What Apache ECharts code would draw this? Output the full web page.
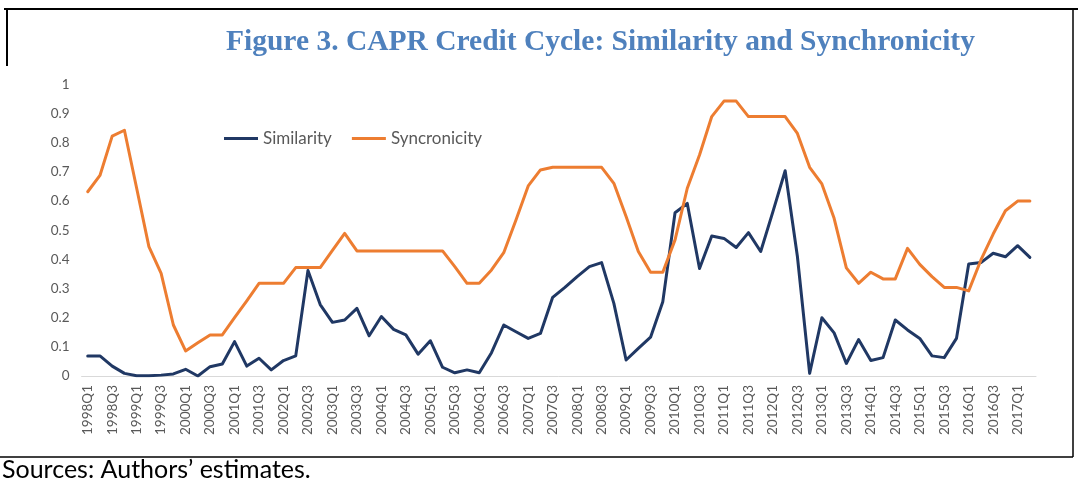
<!DOCTYPE html>
<html>
<head>
<meta charset="utf-8">
<script src="https://cdn.jsdelivr.net/npm/echarts@6/dist/echarts.min.js"></script>
<style>
html,body{margin:0;padding:0;background:#fff;}
#chart{width:1078px;height:485px;}
</style>
</head>
<body>
<div id="chart"></div>
<script>
const quarters = [
"1998Q1","1998Q2","1998Q3","1998Q4","1999Q1","1999Q2","1999Q3","1999Q4",
"2000Q1","2000Q2","2000Q3","2000Q4","2001Q1","2001Q2","2001Q3","2001Q4",
"2002Q1","2002Q2","2002Q3","2002Q4","2003Q1","2003Q2","2003Q3","2003Q4",
"2004Q1","2004Q2","2004Q3","2004Q4","2005Q1","2005Q2","2005Q3","2005Q4",
"2006Q1","2006Q2","2006Q3","2006Q4","2007Q1","2007Q2","2007Q3","2007Q4",
"2008Q1","2008Q2","2008Q3","2008Q4","2009Q1","2009Q2","2009Q3","2009Q4",
"2010Q1","2010Q2","2010Q3","2010Q4","2011Q1","2011Q2","2011Q3","2011Q4",
"2012Q1","2012Q2","2012Q3","2012Q4","2013Q1","2013Q2","2013Q3","2013Q4",
"2014Q1","2014Q2","2014Q3","2014Q4","2015Q1","2015Q2","2015Q3","2015Q4",
"2016Q1","2016Q2","2016Q3","2016Q4","2017Q1","2017Q2"
];
const similarity = [
0.069,0.069,0.034,0.009,0.001,0.001,0.003,0.007,
0.023,0.000,0.032,0.041,0.118,0.034,0.061,0.021,
0.053,0.069,0.362,0.245,0.184,0.192,0.232,0.138,
0.204,0.160,0.141,0.075,0.121,0.030,0.011,0.021,
0.011,0.080,0.175,0.152,0.129,0.146,0.270,0.304,
0.341,0.375,0.389,0.249,0.055,0.095,0.133,0.255,
0.560,0.592,0.369,0.480,0.472,0.441,0.492,0.427,
0.564,0.704,0.410,0.009,0.200,0.148,0.043,0.125,
0.053,0.063,0.192,0.158,0.129,0.069,0.063,0.129,
0.384,0.389,0.421,0.409,0.447,0.407
];
const syncronicity = [
0.632,0.688,0.823,0.843,0.644,0.444,0.352,0.175,
0.086,0.114,0.141,0.141,0.200,0.258,0.318,0.318,
0.318,0.372,0.372,0.372,0.431,0.489,0.429,0.429,
0.429,0.429,0.429,0.429,0.429,0.429,0.375,0.318,
0.318,0.364,0.423,0.535,0.652,0.707,0.716,0.716,
0.716,0.716,0.716,0.661,0.547,0.427,0.356,0.356,
0.467,0.644,0.758,0.890,0.943,0.943,0.890,0.890,
0.890,0.890,0.832,0.716,0.659,0.541,0.371,0.318,
0.356,0.333,0.333,0.438,0.383,0.341,0.304,0.304,
0.292,0.398,0.487,0.567,0.600,0.600
];
const titleText = "Figure 3. CAPR Credit Cycle: Similarity and Synchronicity";
const sourceText = "Sources: Authors\u2019 estimates.";

const chart = echarts.init(document.getElementById('chart'), null, {renderer:'canvas'});
chart.setOption({
  animation:false,
  backgroundColor:'#ffffff',
  title:{
    text:titleText,
    left:221, top:22,
    textStyle:{fontFamily:'Liberation Serif', fontWeight:'bold', fontSize:29.5, color:'#4f81bd'}
  },
  legend:{
    left:219, top:125,
    icon:'rect', itemWidth:34, itemHeight:3, itemGap:20,
    textStyle:{fontFamily:'Lato', fontSize:17, color:'#595959'},
    data:['Similarity','Syncronicity']
  },
  grid:{left:81.6, right:42, top:84.5, bottom:109, containLabel:false},
  xAxis:{
    type:'category', data:quarters, boundaryGap:true,
    axisLine:{lineStyle:{color:'#d9d9d9', width:1}},
    axisTick:{show:false},
    axisLabel:{interval:1, rotate:90, color:'#595959', fontFamily:'Lato', fontSize:13.5, margin:9}
  },
  yAxis:{
    type:'value', min:0, max:1, interval:0.1,
    axisLine:{show:false}, axisTick:{show:false},
    splitLine:{show:false},
    axisLabel:{color:'#595959', fontFamily:'Lato', fontSize:13.5, margin:12}
  },
  series:[
    {name:'Similarity', type:'line', data:similarity, symbol:'none',
     lineStyle:{color:'#203864', width:3, cap:'round', join:'round'}, itemStyle:{color:'#203864'}},
    {name:'Syncronicity', type:'line', data:syncronicity, symbol:'none',
     lineStyle:{color:'#ed7d31', width:3, cap:'round', join:'round'}, itemStyle:{color:'#ed7d31'}}
  ],
  graphic:[
    {type:'line', shape:{x1:4, y1:9, x2:1078, y2:9}, style:{stroke:'#000', lineWidth:2}},
    {type:'line', shape:{x1:7, y1:9, x2:7, y2:66}, style:{stroke:'#000', lineWidth:2}},
    {type:'line', shape:{x1:1073, y1:9, x2:1073, y2:457}, style:{stroke:'#000', lineWidth:1.5}},
    {type:'line', shape:{x1:0, y1:457, x2:1073, y2:457}, style:{stroke:'#000', lineWidth:1.5}},
    {type:'text', x:2, y:470, style:{text:sourceText, fontFamily:'Lato', fontSize:25, fill:'#000', textVerticalAlign:'middle'}}
  ]
});
</script>
</body>
</html>
